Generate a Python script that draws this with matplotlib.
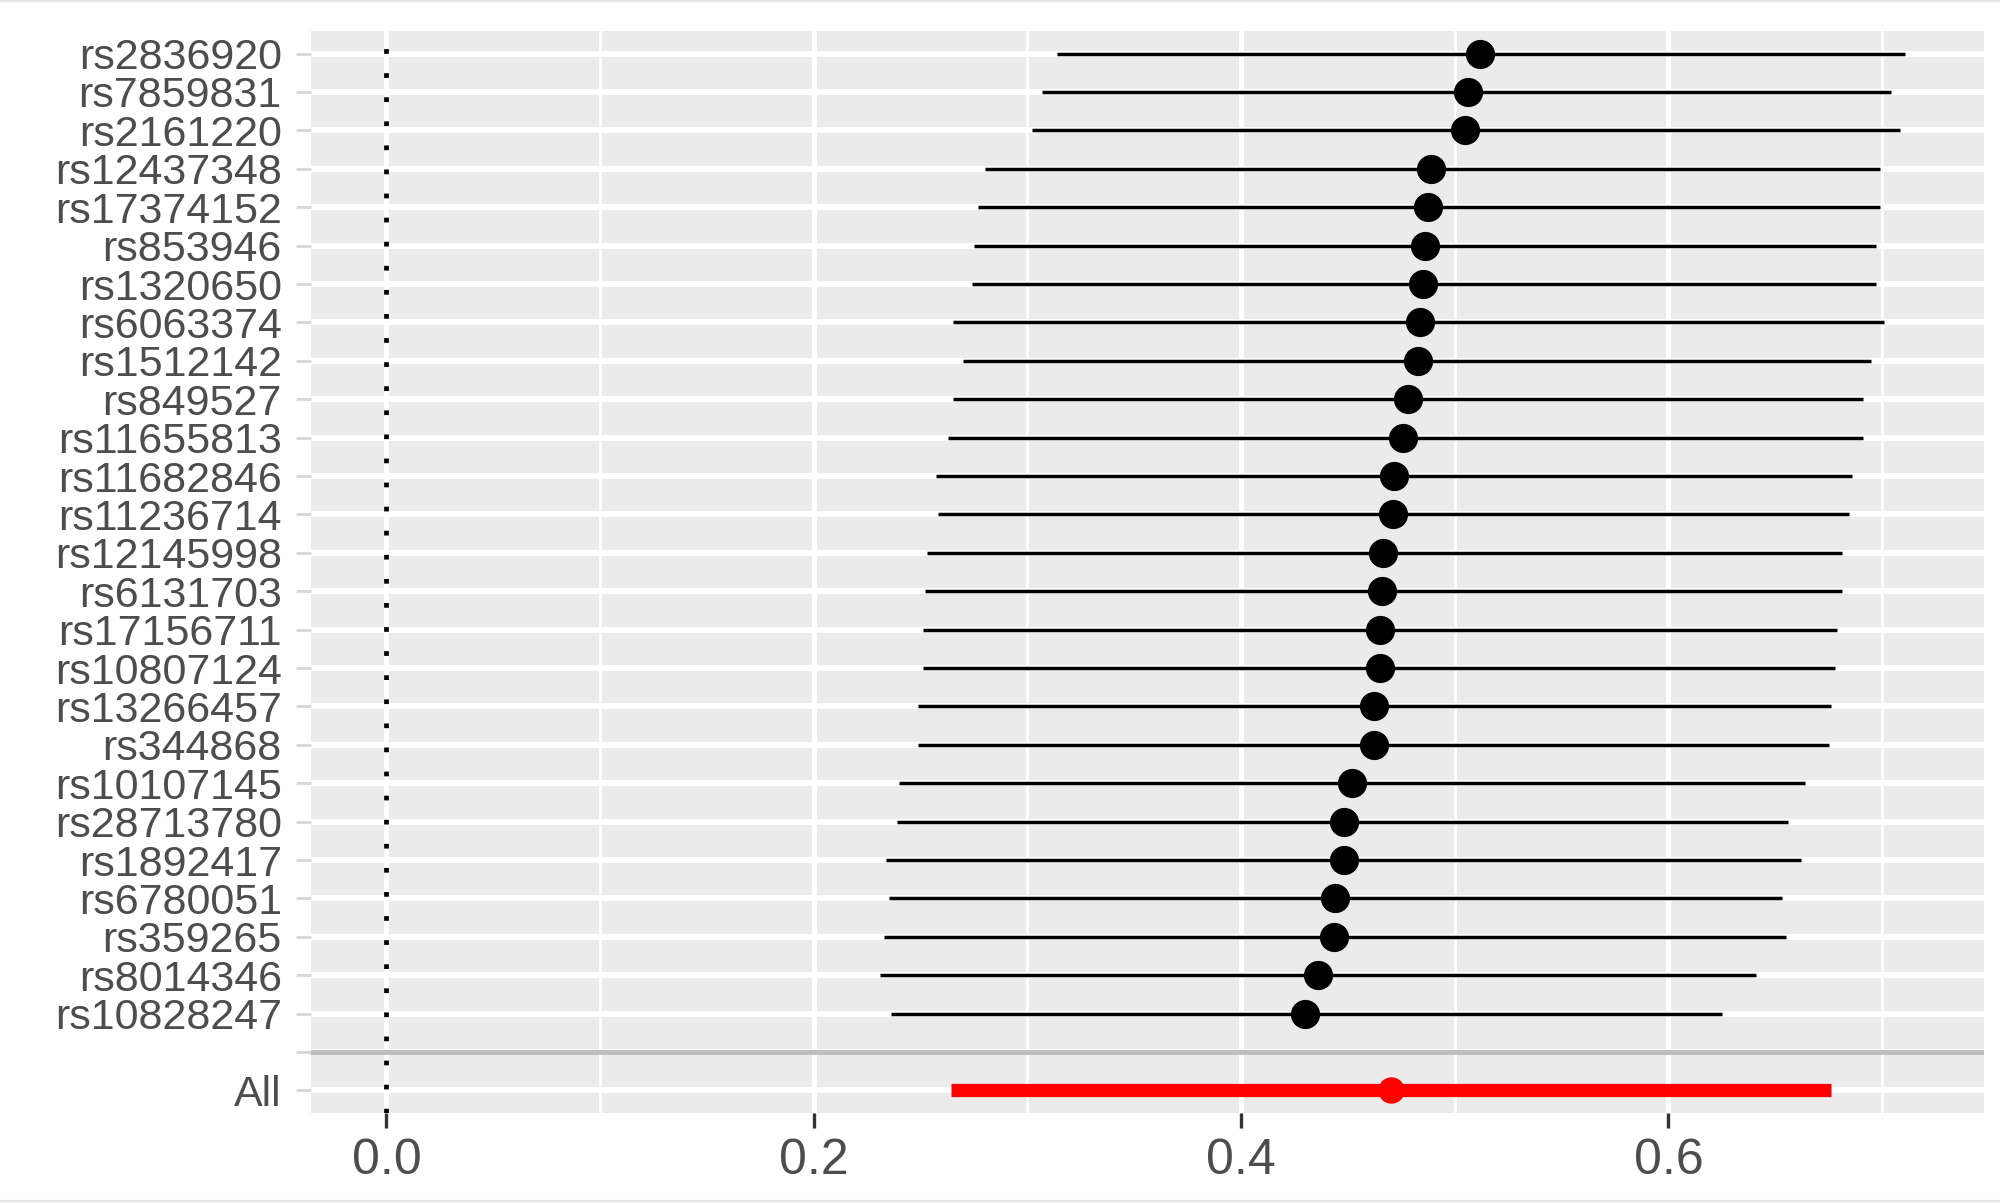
import matplotlib.pyplot as plt
from matplotlib.ticker import MultipleLocator
from matplotlib.lines import Line2D

# SNP estimates with interval bounds, top to bottom
snps = ['rs2836920', 'rs7859831', 'rs2161220', 'rs12437348', 'rs17374152',
        'rs853946', 'rs1320650', 'rs6063374', 'rs1512142', 'rs849527',
        'rs11655813', 'rs11682846', 'rs11236714', 'rs12145998', 'rs6131703',
        'rs17156711', 'rs10807124', 'rs13266457', 'rs344868', 'rs10107145',
        'rs28713780', 'rs1892417', 'rs6780051', 'rs359265', 'rs8014346',
        'rs10828247']
est = [0.512, 0.506, 0.505, 0.489, 0.4875, 0.486, 0.485, 0.4835, 0.483, 0.478,
       0.476, 0.4715, 0.471, 0.4665, 0.466, 0.465, 0.465, 0.462, 0.462, 0.452,
       0.448, 0.448, 0.444, 0.4437, 0.436, 0.430]
lower = [0.314, 0.307, 0.302, 0.280, 0.277, 0.275, 0.274, 0.265, 0.270, 0.265,
         0.263, 0.257, 0.258, 0.253, 0.252, 0.251, 0.251, 0.249, 0.249, 0.240,
         0.239, 0.234, 0.235, 0.233, 0.231, 0.236]
upper = [0.7105, 0.704, 0.7085, 0.699, 0.699, 0.697, 0.697, 0.701, 0.695, 0.691,
         0.691, 0.686, 0.6845, 0.681, 0.681, 0.679, 0.678, 0.676, 0.675, 0.664,
         0.656, 0.662, 0.653, 0.655, 0.641, 0.625]

all_label = 'All'
all_est = 0.470
all_lower = 0.264
all_upper = 0.676

plt.rcParams['font.family'] = ['Liberation Sans', 'DejaVu Sans']

fig = plt.figure(figsize=(20, 12.03), dpi=100)
ax = fig.add_axes([0.1555, 0.0744, 0.8363, 0.9002])

rows = list(range(1, len(snps) + 1))
sep_row = len(snps) + 1
all_row = len(snps) + 2

ax.set_facecolor('#EBEBEB')
for s in ax.spines.values():
    s.set_visible(False)
ax.set_axisbelow(True)

ax.set_xlim(-0.0353, 0.7475)
ax.set_ylim(all_row + 0.6, 0.4)

ax.set_xticks([0.0, 0.2, 0.4, 0.6])
ax.set_xticklabels(['0.0', '0.2', '0.4', '0.6'])
ax.xaxis.set_minor_locator(MultipleLocator(0.1))
ax.set_yticks(rows + [sep_row, all_row])
ax.set_yticklabels(snps + ['', all_label])

ax.grid(axis='y', which='major', color='white', lw=4.3)
ax.grid(axis='x', which='major', color='white', lw=3.6)
ax.grid(axis='x', which='minor', color='white', lw=2.0)

ax.tick_params(axis='y', length=11, width=2, color='#D6D6D6',
               labelsize=31, labelcolor='#4D4D4D', pad=10)
ax.tick_params(axis='x', which='major', length=11, width=2.4, color='#333333',
               labelsize=36, labelcolor='#4D4D4D', pad=7)
ax.tick_params(axis='x', which='minor', length=0)

# separator between SNPs and the pooled estimate
ax.axhline(sep_row, color='#BEBEBE', lw=3.6, zorder=1.5)
# reference line at zero
ax.axvline(0, color='black', lw=3.4, ls=(0, (1, 4.1)), zorder=2)

ax.hlines(rows, lower, upper, color='black', lw=2.5, zorder=3)
ax.plot(est, rows, 'o', color='black', ms=20, zorder=4)

ax.hlines(all_row, all_lower, all_upper, color='red', lw=9.5, zorder=3)
ax.plot(all_est, all_row, 'o', color='red', ms=18, zorder=4)

# faint frame lines at top and bottom of image
fig.add_artist(Line2D([0, 1], [0.999, 0.999], color='#E3E3E3', lw=1.5))
fig.add_artist(Line2D([0, 1], [0.002, 0.002], color='#E3E3E3', lw=1.5))

fig.savefig('out.png', dpi=100)
